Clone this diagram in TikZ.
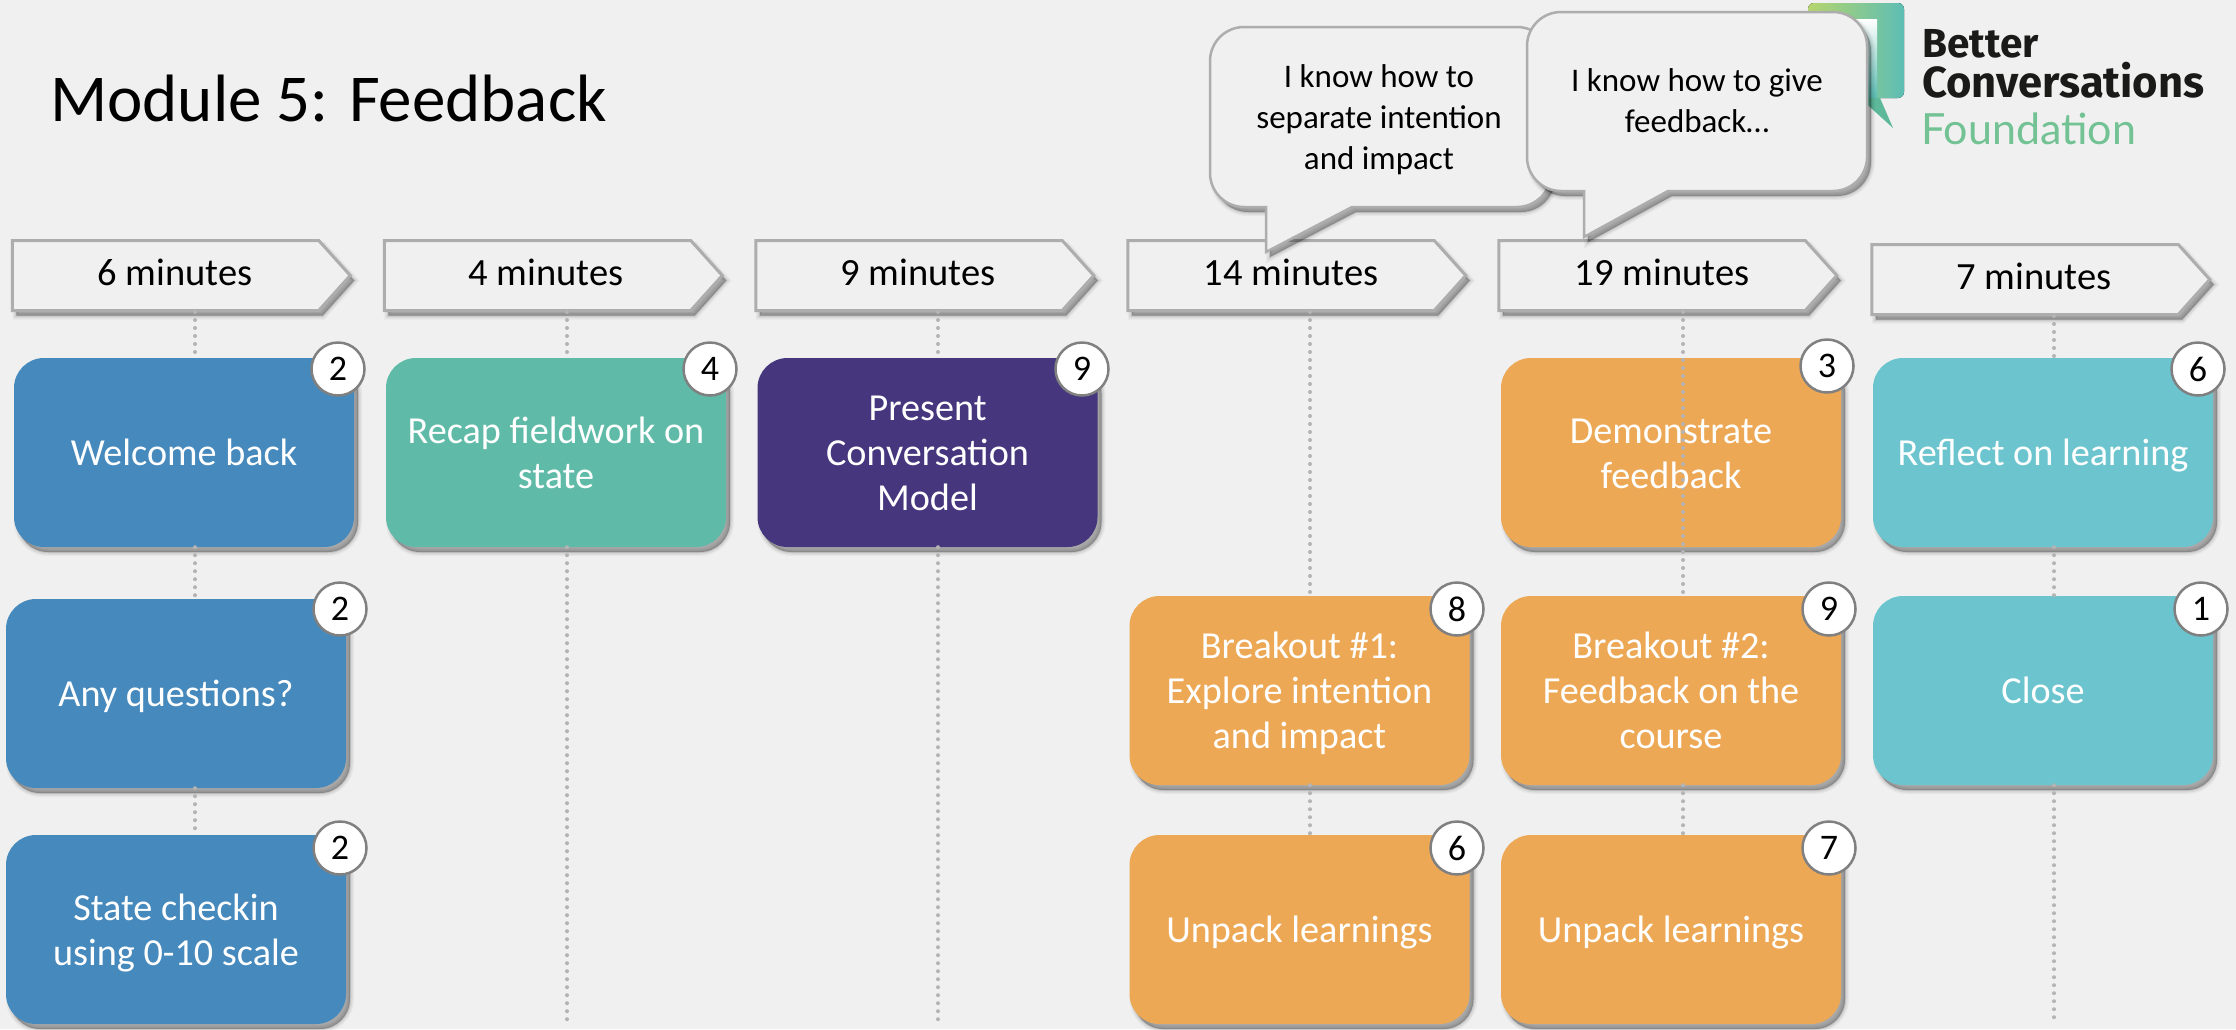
\documentclass[tikz,border=0pt]{standalone}
\usepackage{fontspec}
\setmainfont{Carlito}
\newfontfamily\logofont{Fira Sans}
\newfontfamily\logolight{Lato}
\usetikzlibrary{shapes.symbols}
\definecolor{bg}{HTML}{F0F0F0}
\definecolor{edgegrey}{HTML}{ADADAD}
\definecolor{dotgrey}{HTML}{B4B4B4}
\definecolor{cblue}{HTML}{4689BC}
\definecolor{cgreen}{HTML}{5FBBA7}
\definecolor{cpurple}{HTML}{45367E}
\definecolor{corange}{HTML}{EDA855}
\definecolor{cteal}{HTML}{6CC5CE}
\definecolor{logogreen}{HTML}{72C294}
\definecolor{logoink}{HTML}{1A1A18}
\definecolor{logoLeft}{HTML}{B5D56E}
\definecolor{logoRight}{HTML}{5DBDB4}
\definecolor{logoTail}{HTML}{5DB99A}
\newcommand{\boxstrut}{\rule[-7pt]{0pt}{40pt}}
\tikzset{
  softshadow/.style={
    preaction={draw=black,fill=black,line width=8pt,opacity=.04,transform canvas={shift={(4pt,-5pt)}}},
    preaction={draw=black,fill=black,line width=5pt,opacity=.06,transform canvas={shift={(4pt,-5pt)}}},
    preaction={draw=black,fill=black,line width=2pt,opacity=.09,transform canvas={shift={(4pt,-5pt)}}},
    preaction={fill=black,opacity=.14,transform canvas={shift={(4pt,-5pt)}}}},
  stepbox/.style={rectangle,rounded corners=30pt,minimum width=340pt,minimum height=189pt,inner sep=0pt,
    softshadow,text=white,align=center,font=\fontsize{38.2}{45}\selectfont,
    execute at begin node=\boxstrut,execute at end node=\boxstrut},
  blue/.style={stepbox,fill=cblue},
  green/.style={stepbox,fill=cgreen},
  purple/.style={stepbox,fill=cpurple},
  orange/.style={stepbox,fill=corange},
  teal/.style={stepbox,fill=cteal},
  badge/.style={circle,draw=black!50,line width=2.5pt,fill=white,minimum size=53pt,inner sep=0pt,text=black,
    font=\fontsize{36}{36}\selectfont},
  timebox/.style={signal,signal to=east,signal from=nowhere,signal pointer angle=96,draw=edgegrey,line width=3pt,
    fill=bg,minimum width=338pt,minimum height=70pt,inner sep=0pt,softshadow},
  timetext/.style={anchor=base,inner sep=0pt,text=black,font=\fontsize{38.5}{45}\selectfont},
  dotline/.style={draw=dotgrey,line width=4pt,line cap=round,dash pattern=on 0pt off 8pt},
  bubble/.style={draw=edgegrey,line width=2.5pt,fill=bg,softshadow},
  bubbletext/.style={align=center,inner sep=0pt,text=black,font=\fontsize{33}{41}\selectfont},
}
\begin{document}
\begin{tikzpicture}[x=1pt,y=-1pt]
\fill[bg] (0,0) rectangle (2236,1029);
\useasboundingbox (0,0) rectangle (2236,1029);

% column guide coordinates
\coordinate (l1) at (195,1019);
\coordinate (l2) at (567,1021);
\coordinate (l3) at (938,1021);
\coordinate (l4) at (1310,1021);
\coordinate (l5) at (1683,1021);
\coordinate (l6) at (2054,1021);

% time chevrons
\node[timebox] (c1) at (165.5,275.5) {};
\node[timebox] (c2) at (537.5,275.5) {};
\node[timebox] (c3) at (909,275.5) {};
\node[timebox] (c4) at (1281,275.5) {};
\node[timebox] (c5) at (1652,275.5) {};
\node[timebox] (c6) at (2025,279.5) {};
\node[timetext] (t1) at (175,285) {6 minutes};
\node[timetext] (t2) at (546,285) {4 minutes};
\node[timetext] (t3) at (918,285) {9 minutes};
\node[timetext] (t4) at (1291,285) {14 minutes};
\node[timetext] (t5) at (1662,285) {19 minutes};
\node[timetext] (t6) at (2034,289) {7 minutes};

% boxes
\node[blue] (a1) at (184,452.5) {Welcome back};
\node[blue] (a2) at (176,693.5) {Any questions?};
\node[blue] (a3) at (176,929.5) {\boxstrut State checkin\\using 0-10 scale};
\node[green] (b1) at (556,452.5) {\boxstrut Recap fieldwork on\\state};
\node[purple] (d1) at (927.5,452.5) {\boxstrut Present\\Conversation\\Model};
\node[orange] (e1) at (1299.5,690.5) {\boxstrut Breakout \#1:\\Explore intention\\and impact};
\node[orange] (e2) at (1299.5,929.5) {Unpack learnings};
\node[orange] (f1) at (1671,452.5) {};
\node[orange] (f2) at (1671,690.5) {\boxstrut Breakout \#2:\\Feedback on the\\course};
\node[orange] (f3) at (1671,929.5) {Unpack learnings};
\node[teal] (g1) at (2043,452.5) {Reflect on learning};
\node[teal] (g2) at (2043,690.5) {Close};

% dotted connectors
\draw[dotline] (l1 |- c1.south) -- (l1 |- a1.north);
\draw[dotline] (l1 |- a1.south) -- (l1 |- a2.north);
\draw[dotline] (l1 |- a2.south) -- (l1 |- a3.north);
\draw[dotline] (l2 |- c2.south) -- (l2 |- b1.north);
\draw[dotline] (l2 |- b1.south) -- (l2);
\draw[dotline] (l3 |- c3.south) -- (l3 |- d1.north);
\draw[dotline] (l3 |- d1.south) -- (l3);
\draw[dotline] (l4 |- c4.south) -- (l4 |- e1.north);
\draw[dotline] (l4 |- e1.south) -- (l4 |- e2.north);
\draw[dotline] (l5 |- c5.south) -- (l5 |- f2.north);
\draw[dotline] (l5 |- f2.south) -- (l5 |- f3.north);
\draw[dotline] (l6 |- c6.south) -- (l6 |- g1.north);
\draw[dotline] (l6 |- g1.south) -- (l6 |- g2.north);
\draw[dotline] (l6 |- g2.south) -- (l6);

\node[align=center,inner sep=0pt,text=white,font=\fontsize{38.2}{45}\selectfont,
  execute at end node=\boxstrut] (f1t) at (1671,452.5) {\boxstrut Demonstrate\\feedback};

% badges
\node[badge] (n1) at (338,369) {2};
\node[badge] (n2) at (340,609) {2};
\node[badge] (n3) at (340,848) {2};
\node[badge] (n4) at (710,369) {4};
\node[badge] (n5) at (1082,369) {9};
\node[badge] (n6) at (1457,609) {8};
\node[badge] (n7) at (1457,848) {6};
\node[badge] (n8) at (1827,366) {3};
\node[badge] (n9) at (1829,609) {9};
\node[badge] (n10) at (1829,848) {7};
\node[badge] (n11) at (2198,369) {6};
\node[badge] (n12) at (2201,609) {1};

% logo
\fill[left color=logoLeft,right color=logoRight,rounded corners=6pt] (1808,3) rectangle (1904,98);
\fill[top color=white,bottom color=logoRight] (1830,19) rectangle (1877,97);
\fill[logoTail,line join=round] (1860,98) -- (1880,98) -- (1893,128) -- cycle;
\node[anchor=base west,inner sep=0pt,text=logoink,font=\logofont\bfseries\fontsize{40.5}{40}\selectfont] (lg1) at (1922,57) {Better};
\node[anchor=base west,inner sep=0pt,text=logoink,font=\logofont\bfseries\fontsize{43.5}{44}\selectfont] (lg2) at (1922,97) {Conversations};
\node[anchor=base west,inner sep=0pt,text=logogreen,font=\logolight\fontsize{43}{43}\selectfont] (lg3) at (1921,144) {Foundation};

% title
\node[anchor=base west,inner sep=0pt,text=black,font=\fontsize{67}{70}\selectfont] (title) at (50,121) {Module 5: Feedback};

% speech bubbles
\draw[bubble] (1210,117) [rounded corners=34pt] -- (1210,27) -- (1551,27) -- (1551,207) [sharp corners] -- (1352,207) -- (1266,252) -- (1266,207) [rounded corners=34pt] -- (1210,207) -- cycle;
\node[bubbletext] (s1) at (1379,120) {I know how to\\separate intention\\and impact};
\draw[bubble] (1527,102) [rounded corners=34pt] -- (1527,12) -- (1867,12) -- (1867,191) [sharp corners] -- (1668,191) -- (1584,237) -- (1584,191) [rounded corners=34pt] -- (1527,191) -- cycle;
\node[bubbletext] (s2) at (1697,101) {I know how to give\\feedback\dots};
\end{tikzpicture}
\end{document}
